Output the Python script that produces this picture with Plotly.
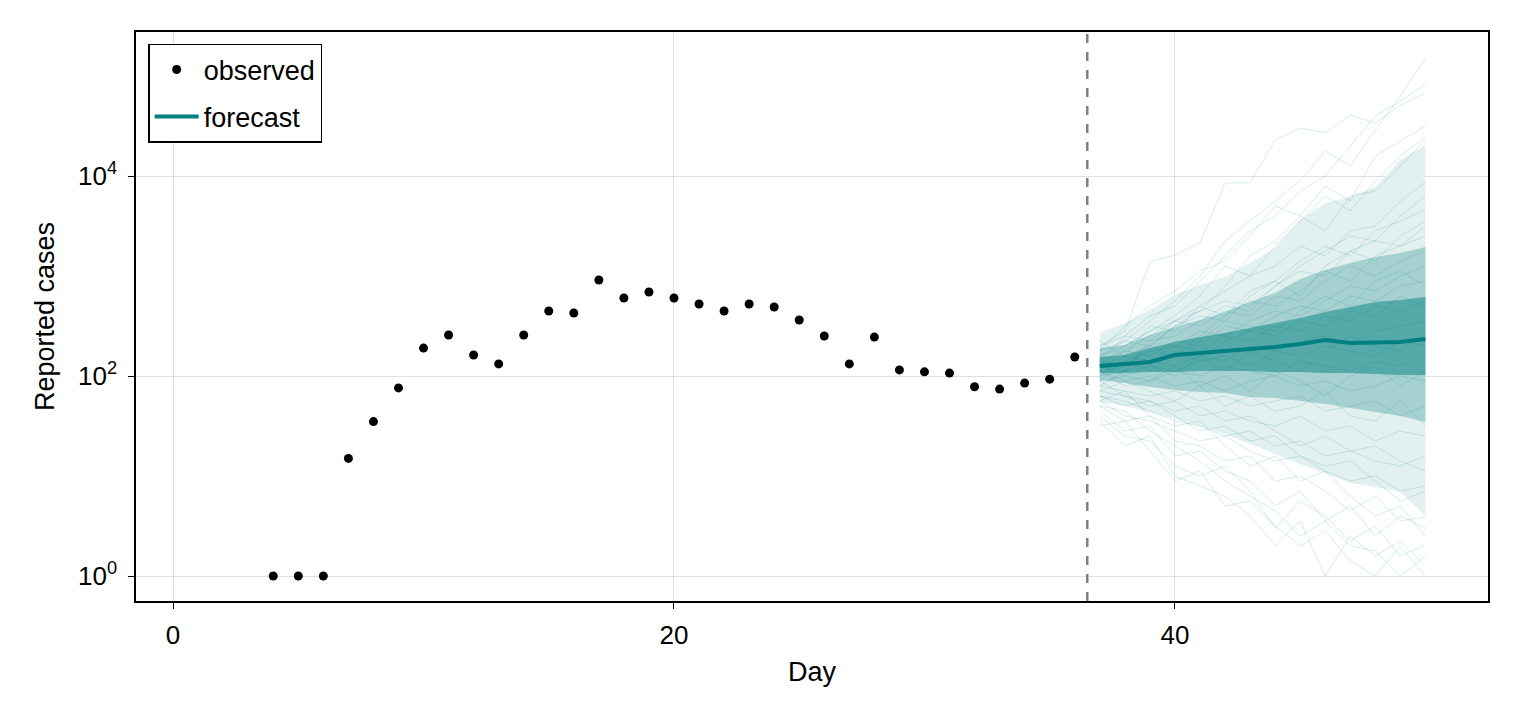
import numpy as np
import plotly.graph_objects as go

# observed daily reported cases
obs_days = list(range(4, 37))
obs_cases = [1, 1, 1, 15, 35, 76, 190, 257, 162, 132, 257, 447, 427, 912, 603, 692,
             603, 525, 447, 525, 490, 363, 251, 132, 245, 115, 110, 107, 78, 74, 85, 93, 155]

forecast_start = 36.5
fc_days = list(range(37, 51))

# quantile bands (log10 of cases)
median_log = [2.10, 2.12, 2.14, 2.21, 2.23, 2.24, 2.27, 2.29, 2.32, 2.36, 2.33, 2.33, 2.34, 2.37]
dark_lo = [2.03, 2.03, 2.04, 2.04, 2.05, 2.05, 2.05, 2.04, 2.04, 2.03, 2.03, 2.02, 2.01, 2.01]
dark_hi = [2.19, 2.21, 2.28, 2.34, 2.39, 2.43, 2.48, 2.53, 2.58, 2.64, 2.69, 2.74, 2.76, 2.79]
mid_lo = [1.96, 1.93, 1.89, 1.86, 1.84, 1.83, 1.79, 1.78, 1.75, 1.72, 1.68, 1.64, 1.60, 1.54]
mid_hi = [2.28, 2.31, 2.41, 2.49, 2.56, 2.64, 2.74, 2.83, 2.97, 3.06, 3.13, 3.19, 3.23, 3.29]
light_lo = [1.74, 1.70, 1.64, 1.57, 1.50, 1.42, 1.32, 1.22, 1.12, 1.03, 0.93, 0.89, 0.84, 0.60]
light_hi = [2.43, 2.53, 2.66, 2.81, 2.91, 2.99, 3.13, 3.28, 3.56, 3.73, 3.79, 3.89, 4.16, 4.31]

# sample trajectories (log10 of cases)
samples_log = [
    [2.30, 2.45, 3.14, 3.21, 3.33, 3.93, 3.93, 4.36, 4.48, 4.43, 4.61, 4.53, 4.71, 4.83],
    [2.20, 2.35, 2.55, 2.75, 3.00, 3.35, 3.55, 3.75, 3.95, 4.25, 4.10, 4.46, 4.80, 5.18],
    [2.15, 2.40, 2.60, 2.70, 2.95, 3.20, 3.45, 3.60, 3.85, 4.00, 4.30, 4.60, 4.75, 4.92],
    [2.25, 2.50, 2.70, 2.85, 3.05, 3.15, 3.40, 3.70, 3.60, 3.90, 3.75, 4.20, 4.35, 4.50],
    [2.10, 2.30, 2.45, 2.60, 2.80, 3.10, 3.00, 3.30, 3.55, 3.80, 3.65, 3.95, 4.20, 4.39],
    [2.05, 2.25, 2.40, 2.55, 2.65, 2.90, 3.20, 3.35, 3.60, 3.45, 3.80, 3.85, 4.10, 4.36],
    [2.20, 2.30, 2.45, 2.55, 2.70, 2.85, 3.00, 3.10, 3.30, 3.20, 3.45, 3.50, 3.75, 3.94],
    [2.00, 2.20, 2.30, 2.50, 2.60, 2.55, 2.80, 2.95, 3.15, 3.30, 3.20, 3.45, 3.55, 3.66],
    [2.10, 2.05, 2.35, 2.40, 2.55, 2.70, 2.65, 2.90, 3.05, 3.00, 3.25, 3.15, 3.40, 3.55],
    [1.95, 2.15, 2.25, 2.20, 2.40, 2.60, 2.75, 2.70, 2.85, 3.05, 2.95, 3.20, 3.30, 3.40],
    [2.30, 2.40, 2.35, 2.55, 2.50, 2.65, 2.60, 2.80, 2.75, 2.95, 3.10, 3.00, 3.15, 3.25],
    [2.05, 2.10, 2.25, 2.30, 2.45, 2.40, 2.55, 2.65, 2.60, 2.75, 2.90, 2.85, 3.00, 3.10],
    [2.15, 2.25, 2.20, 2.35, 2.30, 2.50, 2.45, 2.60, 2.70, 2.65, 2.80, 2.75, 2.90, 2.95],
    [2.10, 2.20, 2.15, 2.30, 2.25, 2.40, 2.35, 2.50, 2.45, 2.60, 2.55, 2.70, 2.65, 2.75],
    [2.00, 2.05, 2.15, 2.10, 2.20, 2.15, 2.30, 2.25, 2.35, 2.40, 2.30, 2.45, 2.50, 2.55],
    [2.10, 2.00, 2.10, 2.05, 2.15, 2.20, 2.10, 2.25, 2.20, 2.30, 2.25, 2.20, 2.35, 2.30],
    [1.95, 2.00, 1.95, 2.05, 2.00, 2.10, 2.05, 2.00, 2.15, 2.10, 2.05, 2.15, 2.10, 2.20],
    [2.05, 1.95, 2.00, 1.90, 1.95, 1.85, 1.95, 2.00, 1.90, 1.95, 1.85, 1.90, 2.00, 1.95],
    [1.90, 1.85, 1.80, 1.85, 1.75, 1.80, 1.70, 1.75, 1.80, 1.65, 1.70, 1.75, 1.60, 1.70],
    [1.85, 1.80, 1.70, 1.75, 1.60, 1.65, 1.55, 1.50, 1.60, 1.45, 1.50, 1.35, 1.45, 1.40],
    [1.80, 1.75, 1.65, 1.55, 1.50, 1.40, 1.45, 1.30, 1.35, 1.20, 1.25, 1.15, 1.10, 1.20],
    [1.75, 1.60, 1.55, 1.45, 1.35, 1.40, 1.25, 1.15, 1.20, 1.05, 0.95, 1.00, 0.85, 0.90],
    [1.70, 1.55, 1.60, 1.35, 1.30, 1.15, 1.20, 0.95, 1.00, 0.85, 0.65, 0.80, 0.55, 0.59],
    [1.65, 1.45, 1.50, 1.20, 1.25, 1.05, 0.95, 0.70, 0.85, 0.55, 0.70, 0.40, 0.60, 0.48],
    [1.60, 1.40, 1.35, 1.10, 1.00, 1.10, 0.85, 0.48, 0.75, 0.60, 0.35, 0.50, 0.20, 0.31],
    [1.55, 1.30, 1.40, 1.00, 0.90, 0.80, 0.60, 0.31, 0.55, 0.00, 0.40, 0.20, 0.35, 0.10],
    [1.50, 1.55, 1.25, 0.95, 1.05, 0.70, 0.75, 0.50, 0.30, 0.45, 0.15, 0.00, 0.30, 0.00],
    [1.70, 1.65, 1.45, 1.30, 1.15, 0.95, 0.80, 0.65, 0.40, 0.55, 0.30, 0.25, 0.00, 0.20],
    [2.35, 2.20, 2.50, 2.45, 2.70, 2.60, 2.85, 2.95, 2.80, 3.10, 3.25, 3.35, 3.30, 3.50],
    [2.25, 2.35, 2.30, 2.50, 2.65, 2.75, 2.70, 2.90, 3.10, 3.25, 3.40, 3.35, 3.60, 3.80],
    [2.15, 2.10, 2.30, 2.20, 2.35, 2.55, 2.50, 2.45, 2.65, 2.80, 2.70, 2.95, 3.05, 2.90],
    [2.00, 2.15, 2.05, 2.25, 2.15, 2.35, 2.45, 2.40, 2.55, 2.50, 2.65, 2.60, 2.80, 2.70],
    [1.90, 2.05, 2.10, 2.00, 2.20, 2.05, 2.25, 2.15, 2.05, 2.25, 2.40, 2.30, 2.25, 2.45],
    [2.05, 1.90, 1.95, 2.10, 1.90, 2.00, 1.85, 2.05, 1.95, 1.80, 2.00, 2.10, 1.90, 2.05],
    [1.85, 1.95, 1.85, 1.75, 1.90, 1.70, 1.80, 1.65, 1.70, 1.85, 1.60, 1.55, 1.75, 1.50],
    [1.95, 1.80, 1.75, 1.65, 1.70, 1.55, 1.60, 1.45, 1.30, 1.40, 1.25, 1.30, 1.15, 1.05],
    [1.80, 1.70, 1.75, 1.60, 1.45, 1.50, 1.35, 1.40, 1.20, 1.10, 1.15, 0.95, 0.75, 0.85],
    [1.75, 1.85, 1.60, 1.50, 1.55, 1.30, 1.10, 1.20, 0.95, 1.05, 0.80, 0.60, 0.70, 0.40],
]

ytick_vals = [1, 100, 10000]
ytick_text = ["10<sup>0</sup>", "10<sup>2</sup>", "10<sup>4</sup>"]
xtick_vals = [0, 20, 40]

teal = "#008080"
font = "Liberation Sans, Arial, sans-serif"
tick_font = dict(family=font, size=26, color="black")
label_font = dict(family=font, size=27, color="black")

fig = go.Figure()

# quantile bands, widest first
for lo, hi, col in [(light_lo, light_hi, "#e3f0f0"),
                    (mid_lo, mid_hi, "#a7d1d1"),
                    (dark_lo, dark_hi, "#55a9a9")]:
    fig.add_trace(go.Scatter(x=fc_days, y=10 ** np.array(lo), mode="lines",
                             line=dict(width=0), showlegend=False, hoverinfo="skip"))
    fig.add_trace(go.Scatter(x=fc_days, y=10 ** np.array(hi), mode="lines",
                             line=dict(width=0), fill="tonexty", fillcolor=col,
                             showlegend=False, hoverinfo="skip"))

# thin sample trajectories
for s in samples_log:
    fig.add_trace(go.Scatter(x=fc_days, y=10 ** np.array(s), mode="lines",
                             line=dict(width=1, color="rgba(0,128,128,0.16)"),
                             showlegend=False, hoverinfo="skip"))

# median forecast
fig.add_trace(go.Scatter(x=fc_days, y=10 ** np.array(median_log), mode="lines",
                         name="forecast", legendgroup="fc", legendrank=2,
                         line=dict(width=4, color=teal)))

# observed points
fig.add_trace(go.Scatter(x=obs_days, y=obs_cases, mode="markers", name="observed",
                         legendgroup="obs", legendrank=1,
                         marker=dict(size=9, color="black")))

# dashed line where forecast begins
fig.add_shape(type="line", xref="x", yref="paper", x0=forecast_start, x1=forecast_start,
              y0=0, y1=1, line=dict(color="#808080", width=2.5, dash="dash"))

fig.update_layout(
    width=1520, height=720,
    margin=dict(l=128, r=40, t=24, b=127),
    plot_bgcolor="white", paper_bgcolor="white",
    font=dict(family=font, size=26, color="black"),
    legend=dict(x=0.009, y=0.979, xanchor="left", yanchor="top",
                bordercolor="black", borderwidth=1.5, bgcolor="white",
                font=dict(family=font, size=27, color="black"),
                traceorder="grouped", tracegroupgap=9, itemwidth=44),
    showlegend=True,
)
fig.update_xaxes(range=[-1.48, 52.5], tickvals=xtick_vals, ticks="outside", ticklen=6,
                 tickwidth=1, tickcolor="black", ticklabelstandoff=4,
                 showline=True, mirror=True,
                 linecolor="black", linewidth=1.5, showgrid=True,
                 gridcolor="rgba(0,0,0,0.12)", zeroline=False,
                 tickfont=tick_font,
                 title=dict(text="Day", standoff=13, font=label_font))
fig.update_yaxes(type="log", range=[-0.25, 5.44], tickvals=ytick_vals, ticktext=ytick_text,
                 ticks="outside", ticklen=6, tickwidth=1, tickcolor="black",
                 ticklabelstandoff=6,
                 showline=True, mirror=True, linecolor="black", linewidth=1.5,
                 showgrid=True, gridcolor="rgba(0,0,0,0.12)", zeroline=False,
                 tickfont=tick_font,
                 title=dict(text="Reported cases", standoff=16, font=label_font))

fig.write_html("out.html")
